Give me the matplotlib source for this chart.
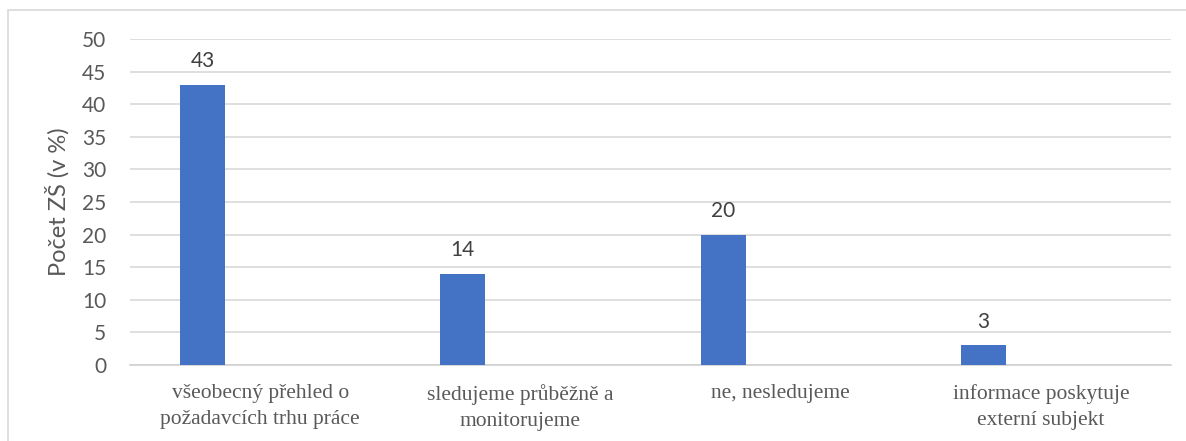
import matplotlib
matplotlib.use("Agg")
import matplotlib.pyplot as plt
from matplotlib.patches import Rectangle
import numpy as np

categories = ["všeobecný přehled o\npožadavcích trhu práce",
              "sledujeme průběžně a\nmonitorujeme",
              "ne, nesledujeme",
              "informace poskytuje\nexterní subjekt"]
values = [43, 14, 20, 3]
y_ticks = [0, 5, 10, 15, 20, 25, 30, 35, 40, 45, 50]
y_label = "Počet ZŠ (v %)"

grey_text = "#595959"
bar_color = "#4472C4"

fig = plt.figure(figsize=(11.86, 4.41), dpi=100)
# outer chart border, cut off at right and bottom like the screenshot
fig.patches.append(Rectangle((8 / 1186, -0.05), 1.1, 1 - 10 / 441 + 0.05,
                             transform=fig.transFigure, fill=False,
                             edgecolor="#d9d9d9", linewidth=1.2))

ax = fig.add_axes([130 / 1186, 1 - 365 / 441, (1171 - 130) / 1186, (365 - 39) / 441])
x = np.arange(len(categories))
bars = ax.bar(x - 0.221, values, width=0.173, color=bar_color, zorder=3)

for b, v in zip(bars, values):
    ax.annotate(str(v), (b.get_x() + b.get_width() / 2, v), xytext=(0, 10),
                textcoords="offset points", ha="center", va="bottom",
                fontsize=15, color="#404040", family="Lato")

ax.set_xlim(-0.5, len(categories) - 0.5)
ax.set_ylim(0, 50)
ax.set_yticks(y_ticks)
ax.set_yticklabels([str(t) for t in y_ticks], family="Lato", fontsize=15, color=grey_text)
ax.set_xticks(x)
ax.set_xticklabels(categories, family="Liberation Serif", fontsize=15.5,
                   color=grey_text, linespacing=1.5)
ax.tick_params(axis="both", length=0)
ax.tick_params(axis="y", pad=17)
ax.tick_params(axis="x", pad=14)
ax.grid(axis="y", color="#d9d9d9", linewidth=1.2, zorder=0)
for s in ["top", "right", "left"]:
    ax.spines[s].set_visible(False)
ax.spines["bottom"].set_color("#d0d0d0")
ax.spines["bottom"].set_linewidth(1.2)

ax.set_ylabel(y_label, family="Lato", fontsize=17, color=grey_text, labelpad=9)

fig.savefig("out.png", dpi=100)
